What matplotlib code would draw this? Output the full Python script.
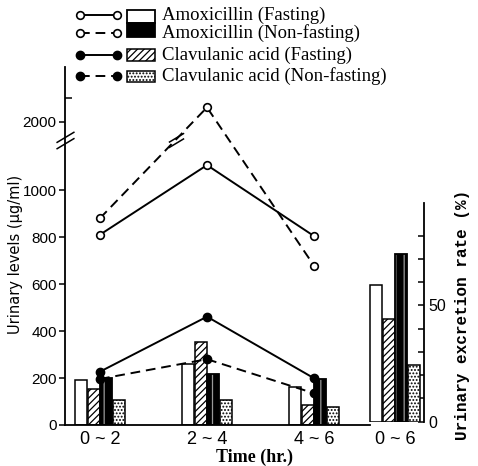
import numpy as np
import matplotlib.pyplot as plt
from matplotlib.path import Path
from matplotlib.patches import Rectangle
from matplotlib.ticker import FixedLocator, FuncFormatter

# ---------------- data ----------------
times = ['0 ~ 2', '2 ~ 4', '4 ~ 6']
total_label = '0 ~ 6'

# urinary levels (ug/ml), lines
amox_fast_line = [810, 1106, 804]
amox_nonfast_line = [880, 2061, 678]
clav_fast_line = [227, 461, 199]
clav_nonfast_line = [196, 280, 135]

# urinary levels (ug/ml), bars
amox_fast_bar = [191, 258, 163]
clav_fast_bar = [153, 354, 85]
amox_nonfast_bar = [201, 216, 194]
clav_nonfast_bar = [106, 106, 75]

# 0-6 hr urinary excretion rate (%): amox F, clav F, amox NF, clav NF
excretion = [58.7, 44, 72, 24.3]

left_ticks = [0, 200, 400, 600, 800, 1000, 2000]
right_ticks = list(range(0, 90, 10))
right_labels = [0, 50]

legend_labels = ['Amoxicillin (Fasting)', 'Amoxicillin (Non-fasting)',
                 'Clavulanic acid (Fasting)', 'Clavulanic acid (Non-fasting)']

# ---------------- broken y scale ----------------
LOW, HIGH = 1213, 1923
_src = [-1e4, LOW, HIGH, 1e5]
_dst = [-1e4, LOW, LOW + 0.5, 1e5 - (HIGH - LOW) + 0.5]


def fwd(y):
    return np.interp(y, _src, _dst)


def inv(t):
    return np.interp(t, _dst, _src)


slash = Path([(-1, -0.25), (1, 0.95), (-1, -0.95), (1, 0.25)],
             [Path.MOVETO, Path.LINETO, Path.MOVETO, Path.LINETO])

plt.rcParams['hatch.linewidth'] = 0.9

fig = plt.figure(figsize=(4.78, 4.66), dpi=100)

ax = fig.add_axes([65 / 478, 1 - 425 / 466, 359 / 478, 358 / 466])
ax.set_yscale('function', functions=(fwd, inv))
ax.set_ylim(0, 2233)
ax.set_xlim(-0.327, 3.028)

x = np.arange(len(times))
x_total = 2.757
w = 0.112
offs = [-0.175, -0.058, 0.058, 0.175]


def draw_bars(a, xs, vals, style):
    if style == 'white':
        a.bar(xs, vals, w, facecolor='white', edgecolor='black', lw=1.1, zorder=2)
    elif style == 'hatch':
        a.bar(xs, vals, w, facecolor='white', edgecolor='black', hatch='/////',
              lw=1.1, zorder=2)
    elif style == 'dark':
        a.bar(xs, vals, w, facecolor='black', edgecolor='0.6', hatch='||',
              lw=0, zorder=2)
        a.bar(xs, vals, w, facecolor='none', edgecolor='black', lw=1.3, zorder=2)
    else:
        a.bar(xs, vals, w, facecolor='white', edgecolor='black', hatch='.....',
              lw=1.1, zorder=2)


styles = ['white', 'hatch', 'dark', 'dots']
for vals, st, o in zip([amox_fast_bar, clav_fast_bar, amox_nonfast_bar, clav_nonfast_bar],
                       styles, offs):
    draw_bars(ax, x + o, vals, st)

dash = (0, (5, 3))
open_kw = dict(color='black', lw=1.4, marker='o', ms=5.5, mfc='white', mec='black',
               mew=1.2, zorder=4)
fill_kw = dict(color='black', lw=1.4, marker='o', ms=6, mfc='black', mec='black',
               zorder=4)
ax.plot(x, amox_fast_line, ls='-', **open_kw)
ax.plot(x, amox_nonfast_line, ls=dash, **open_kw)
ax.plot(x, clav_fast_line, ls='-', **fill_kw)
ax.plot(x, clav_nonfast_line, ls=dash, **fill_kw)

# break marks: on the axis and where the dashed line crosses the break
ax.plot([0], [LOW], transform=ax.get_yaxis_transform(), marker=slash, ms=13,
        mew=1.1, color='black', ls='none', clip_on=False, zorder=5)
t0, t1 = fwd(amox_nonfast_line[0]), fwd(amox_nonfast_line[1])
xc = x[0] + (fwd(LOW) - t0) / (t1 - t0) * (x[1] - x[0])
ax.plot([xc], [LOW], marker=slash, ms=11, mew=1.1, color='black', ls='none',
        zorder=5)

ax.yaxis.set_major_locator(FixedLocator(left_ticks))
ax.yaxis.set_minor_locator(FixedLocator([2100]))
ax.yaxis.set_major_formatter(FuncFormatter(lambda v, p: f'{v:.0f}'))
ax.tick_params(axis='y', which='major', direction='out', length=4, width=1.1,
               labelsize=11, pad=2)
ax.tick_params(axis='y', which='minor', direction='in', length=5, width=1.1)
for lab in ax.get_yticklabels():
    lab.set_family('Liberation Sans')

ax.set_xticks(list(x) + [x_total])
ax.set_xticklabels(times + [total_label], family='Liberation Sans', fontsize=13)
ax.tick_params(axis='x', length=0, pad=4)

ax.spines['top'].set_visible(False)
ax.spines['right'].set_visible(False)
ax.spines['left'].set_linewidth(1.3)
ax.spines['bottom'].set_linewidth(1.3)
ax.spines['bottom'].set_bounds(-0.327, 2.52)

fig.text(16 / 478, 1 - 254 / 466, 'Urinary levels (μg/ml)', family='DejaVu Sans',
         fontsize=10.5, rotation=90, ha='center', va='center')
fig.text(255 / 478, 1 - 457 / 466, 'Time (hr.)', family='Liberation Serif',
         fontweight='bold', fontsize=13, ha='center', va='center')

# ---------------- right axis: excretion rate ----------------
rax = fig.add_axes([65 / 478, 1 - 421.7 / 466, 359 / 478, 218.7 / 466])
rax.patch.set_visible(False)
rax.set_xlim(ax.get_xlim())
rax.set_ylim(0, 94)
for o, v, st in zip(offs, excretion, styles):
    draw_bars(rax, [x_total + o], [v], st)
for s in ['top', 'left', 'bottom']:
    rax.spines[s].set_visible(False)
rax.spines['right'].set_linewidth(1.3)
rax.set_xticks([])
rax.yaxis.tick_right()
rax.set_yticks(right_ticks)
rax.set_yticklabels([str(t) if t in right_labels else '' for t in right_ticks],
                    family='Liberation Sans', fontsize=11.5)
rax.tick_params(axis='y', direction='in', length=4, width=1.1, pad=3)
fig.text(462 / 478, 1 - 315 / 466, 'Urinary excretion rate (%)',
         family='Liberation Mono', fontweight='bold', fontsize=11.5,
         rotation=90, ha='center', va='center')

# ---------------- legend (top, outside axes) ----------------
lax = fig.add_axes([0, 0, 1, 1])
lax.set_xlim(0, 478)
lax.set_ylim(466, 0)
lax.axis('off')
rows = [15, 33, 55, 76]
line_styles = ['-', dash, '-', dash]
kws = [open_kw, open_kw, fill_kw, fill_kw]
boxes = [(10, 23), (23, 37), (49, 61), (71, 82)]
box_styles = ['white', 'dark', 'hatch', 'dots']
for ry, ls, kw, (b0, b1), st, lab in zip(rows, line_styles, kws, boxes, box_styles,
                                          legend_labels):
    lax.plot([80, 117], [ry, ry], ls=ls, **kw)
    if st == 'white':
        lax.add_patch(Rectangle((127, b0), 28, b1 - b0, facecolor='white',
                                edgecolor='black', lw=1.3))
    elif st == 'dark':
        lax.add_patch(Rectangle((127, b0), 28, b1 - b0, facecolor='black',
                                edgecolor='black', lw=1.3))
    elif st == 'hatch':
        lax.add_patch(Rectangle((127, b0), 28, b1 - b0, facecolor='white',
                                edgecolor='black', hatch='/////', lw=1.1))
    else:
        lax.add_patch(Rectangle((127, b0), 28, b1 - b0, facecolor='white',
                                edgecolor='black', hatch='.....', lw=1.1))
    lax.text(162, ry, lab, family='Liberation Serif', fontsize=13.5,
             va='center', ha='left')

fig.savefig('out.png', dpi=100)
